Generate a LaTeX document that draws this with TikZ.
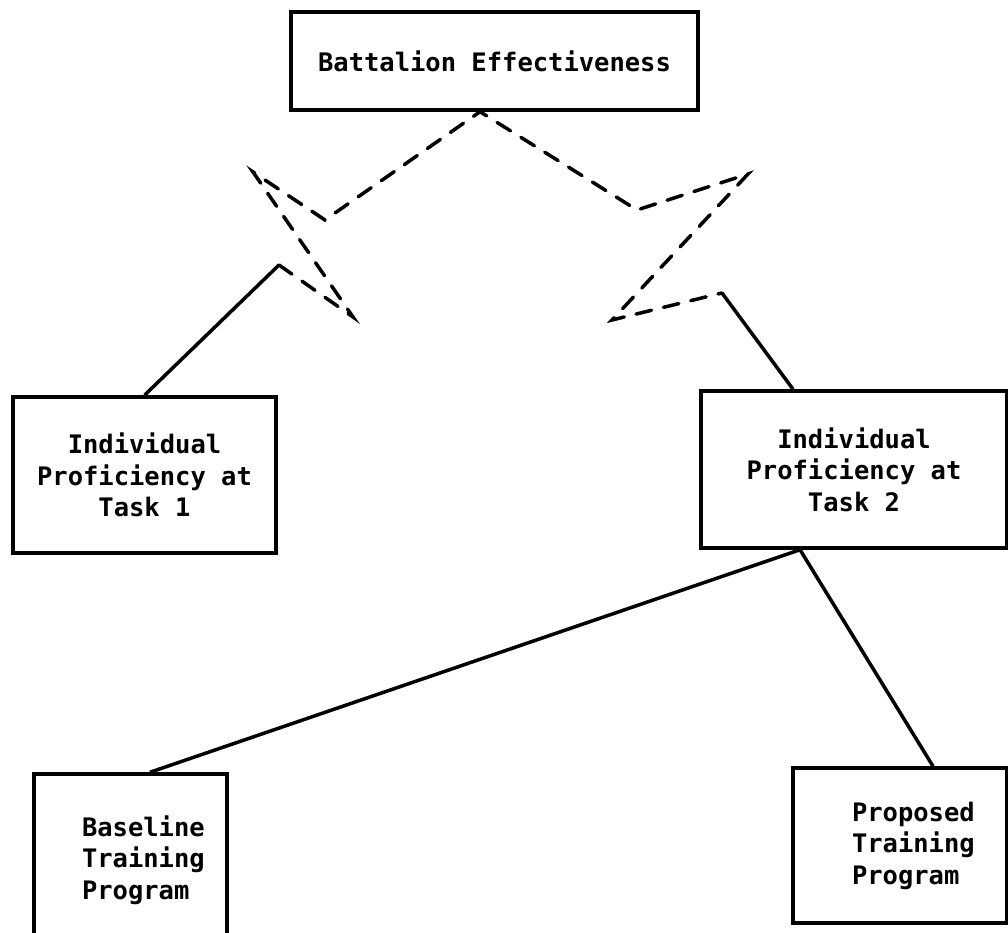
\documentclass[tikz,border=0pt]{standalone}
\usepackage{fontspec}
\setmonofont{DejaVu Sans Mono}
\usetikzlibrary{positioning, calc}

\begin{document}
\begin{tikzpicture}[line width=2pt,
  box/.style={draw, rectangle, inner sep=0pt, align=center, font=\ttfamily\bfseries\fontsize{14.5}{17.9}\selectfont},
  txt/.style={inner sep=0pt, align=left, font=\ttfamily\bfseries\fontsize{14.5}{17.9}\selectfont},
  dashedlink/.style={line cap=round, dash pattern=on 9pt off 7pt}]
\clip (0,0) rectangle (20.16,18.64);
\node[box, minimum width=8.14cm, minimum height=1.96cm] (eff) at (9.89,17.42) {Battalion Effectiveness};
\node[box, minimum width=5.26cm, minimum height=3.12cm] (task1) at (2.89,9.14) {Individual\\Proficiency at\\Task 1};
\node[box, minimum width=6.12cm, minimum height=3.14cm] (task2) at (17.08,9.25) {Individual\\Proficiency at\\Task 2};
\node[box, minimum width=3.86cm, minimum height=3.44cm] (base) at (2.61,1.44) {};
\node[txt, right=0.96cm of base.west] (basetxt) {Baseline\\Training\\Program};
\node[box, minimum width=4.28cm, minimum height=3.10cm] (prop) at (18.0,1.73) {};
\node[txt, right=1.18cm of prop.west] (proptxt) {Proposed\\Training\\Program};
% zigzag points
\coordinate (apex) at ([xshift=-0.29cm]eff.south);
\coordinate (lelbow) at (6.50,14.24);
\coordinate (ltipt) at (5.06,15.20);
\coordinate (ltipb) at (7.06,12.30);
\coordinate (lcorner) at (5.58,13.34);
\coordinate (relbow) at (12.74,14.44);
\coordinate (rtipt) at (14.96,15.16);
\coordinate (rtipb) at (12.24,12.24);
\coordinate (rcorner) at (14.44,12.78);
\draw (task1.north) -- (lcorner);
\draw[dashedlink] (lcorner) -- (ltipb) -- (ltipt) -- (lelbow) -- (apex) -- (relbow) -- (rtipt) -- (rtipb) -- (rcorner);
\draw ([xshift=-1.22cm]task2.north) -- (rcorner);
\draw ([xshift=0.39cm]base.north) -- ([xshift=-1.08cm]task2.south) -- ([xshift=0.66cm]prop.north);
\end{tikzpicture}
\end{document}
